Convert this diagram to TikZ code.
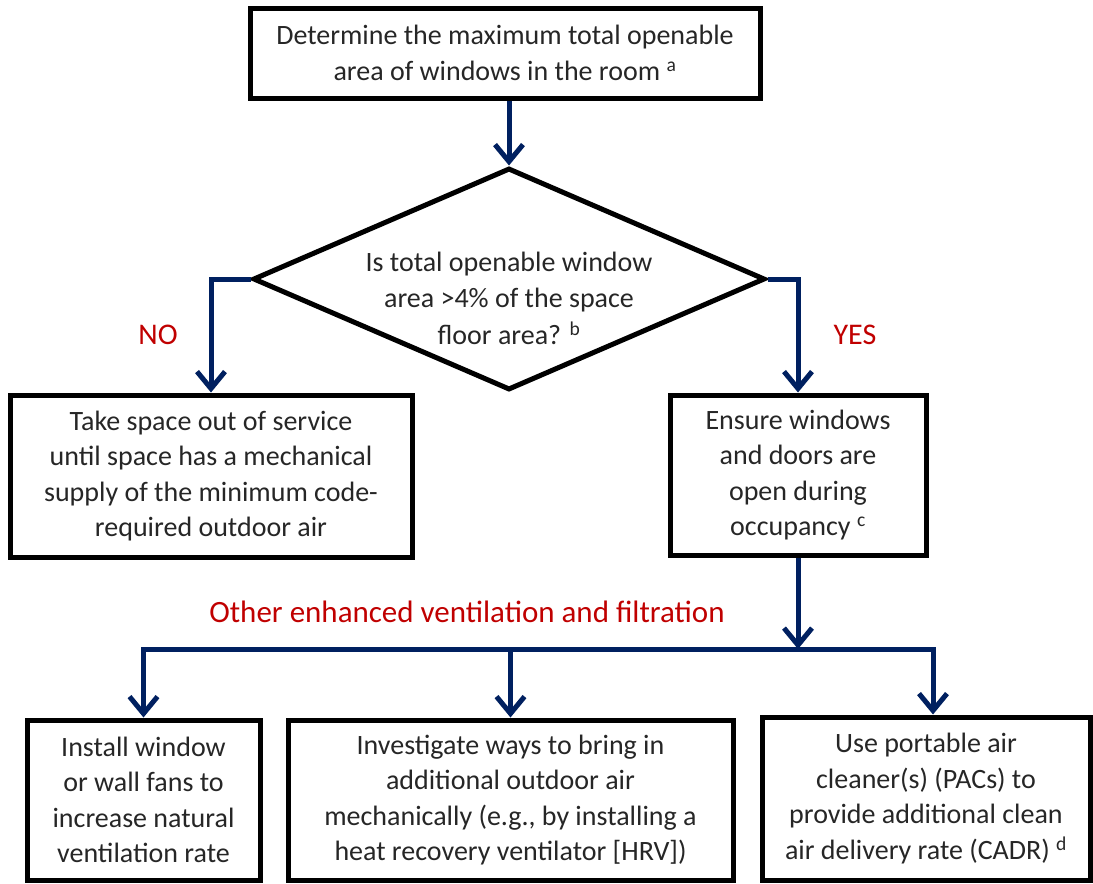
\documentclass[tikz,border=0pt]{standalone}
\usepackage{fontspec}
\setmainfont{Carlito}
\usepackage{tikz}
\usepackage{xcolor}
\usetikzlibrary{shapes.geometric, arrows.meta, positioning, calc}

\definecolor{flownavy}{RGB}{0,32,96}
\definecolor{flowred}{RGB}{192,0,0}
\definecolor{textgray}{RGB}{38,38,38}

\begin{document}
\begin{tikzpicture}[x=1pt,y=-1pt,
  box/.style={draw,line width=5pt,rectangle,inner sep=0pt,align=center,text=textgray,font=\fontsize{28}{35.5}\selectfont},
  decision/.style={draw,line width=5pt,diamond,inner sep=0pt,minimum width=512pt,minimum height=222pt},
  flow/.style={draw=flownavy,line width=5pt,-{Straight Barb[length=17pt,width=28pt]}},
  answer/.style={text=flowred,font=\fontsize{30}{36}\selectfont}]
  \useasboundingbox (0,0) rectangle (1093,884);
  \node[box,minimum width=510pt,minimum height=90pt] (top) at (505,53) {Determine the maximum total openable\\area of windows in the room \textsuperscript{a}};
  \node[decision] (dec) at (509,279) {};
  \node[text=textgray,align=center,font=\fontsize{28}{36.5}\selectfont] (dectxt) at (509,298) {Is total openable window\\area >4\% of the space\\floor area? \textsuperscript{b}};
  \node[box,minimum width=402pt,minimum height=162pt] (nobox) at (211,476) {Take space out of service\\until space has a mechanical\\supply of the minimum code-\\required outdoor air};
  \node[box,minimum width=256pt,minimum height=160pt] (yesbox) at (798,475) {Ensure windows\\and doors are\\open during\\occupancy \textsuperscript{c}};
  \node[answer] (no) at (158,335) {NO};
  \node[answer] (yes) at (855,335) {YES};
  \node[text=flowred,font=\fontsize{31}{36}\selectfont] (other) at (467,612) {Other enhanced ventilation and filtration};
  \coordinate (bar) at (510.5,649);
  \node[box,minimum width=233pt,minimum height=160pt] (fanbox) at (143.5,800) {Install window\\or wall fans to\\increase natural\\ventilation rate};
  \node[box,minimum width=445pt,minimum height=160pt] (hrvbox) at (510.5,800) {Investigate ways to bring in\\additional outdoor air\\mechanically (e.g., by installing a\\heat recovery ventilator [HRV])};
  \node[box,minimum width=328pt,minimum height=163pt] (pacbox) at (926,798.5) {Use portable air\\cleaner(s) (PACs) to\\provide additional clean\\air delivery rate (CADR) \textsuperscript{d}};
  \draw[flow] (dec.north |- top.south) -- (dec.north);
  \draw[flow] (dec.west) -| (nobox.north);
  \draw[flow] (dec.east) -| (yesbox.north);
  \draw[flow] (yesbox.south) -- (yesbox.south |- bar);
  \draw[flow] (bar) -| (fanbox.north);
  \draw[flow] (bar) -| ([xshift=7pt]pacbox.north);
  \draw[flow] (bar) -- (hrvbox.north);
\end{tikzpicture}
\end{document}
